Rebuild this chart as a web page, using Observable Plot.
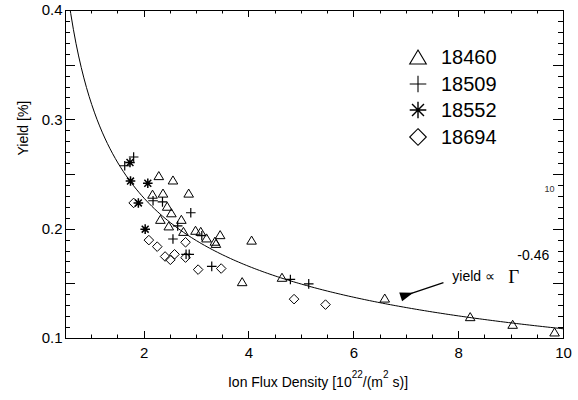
<!DOCTYPE html>
<html>
<head>
<meta charset="utf-8">
<script src="https://cdn.jsdelivr.net/npm/d3@7"></script>
<script src="https://cdn.jsdelivr.net/npm/@observablehq/plot@0.6"></script>
<style>
  body { margin: 0; background: #fff; }
  #chart { position: relative; width: 578px; height: 400px; font-family: "Liberation Sans", Arial, Helvetica, sans-serif; }
  #legend { position: absolute; left: 405px; top: 44px; font-size: 20px; line-height: 26.5px; color: #000; }
  #legend .row { display: flex; align-items: center; height: 26.5px; }
  #legend svg { width: 26px; height: 26px; margin-right: 10px; overflow: visible; }
</style>
</head>
<body>
<div id="chart"><div id="legend"></div></div>
<script>
// Sputtering yield against ion flux density, four discharges, with power-law fit

// shot 18460 (triangles): [flux 1e22 /(m^2 s), yield %]
const shot18460 = [
  [2.28, 0.249], [2.55, 0.245], [2.16, 0.232], [2.36, 0.233], [2.85, 0.233],
  [2.44, 0.221], [2.52, 0.215], [2.71, 0.209], [2.31, 0.209], [2.47, 0.203],
  [2.75, 0.198], [2.98, 0.199], [3.08, 0.198], [3.19, 0.192], [3.35, 0.189],
  [3.37, 0.187], [3.45, 0.195], [4.05, 0.190], [3.87, 0.152], [4.63, 0.156],
  [6.59, 0.137], [8.22, 0.120], [9.03, 0.113], [9.83, 0.106]
];
// shot 18509 (plus signs)
const shot18509 = [
  [1.80, 0.266], [1.63, 0.258], [2.17, 0.226], [2.35, 0.225], [2.89, 0.215],
  [2.64, 0.203], [2.55, 0.191], [3.10, 0.194], [2.80, 0.177], [2.86, 0.177],
  [3.29, 0.166], [4.79, 0.154], [5.14, 0.150]
];
// shot 18552 (asterisks)
const shot18552 = [
  [1.73, 0.261], [1.74, 0.244], [2.07, 0.242], [1.89, 0.224], [2.02, 0.200]
];
// shot 18694 (diamonds)
const shot18694 = [
  [1.80, 0.224], [2.09, 0.190], [2.25, 0.184], [2.40, 0.175], [2.50, 0.172],
  [2.58, 0.177], [2.79, 0.188], [2.79, 0.174], [3.03, 0.163], [3.47, 0.164],
  [4.86, 0.136], [5.46, 0.131]
];
const shotNames = ["18460", "18509", "18552", "18694"];

// power-law fit: yield = C * flux^-0.46
const fitCoefficient = 0.314;
const fitExponent = -0.46;

const xTickLabels = [2, 4, 6, 8, 10];
const yTickLabels = [0.1, 0.2, 0.3, 0.4];

// layout
const W = 578, H = 400, mL = 65, mR = 15, mT = 10, mB = 62;
const frameW = W - mL - mR, frameH = H - mT - mB;
const xDomain = [0.5, 10], yDomain = [0.1, 0.4];

// hollow marker shapes, r = half width
const rOf = (size) => Math.sqrt(size / Math.PI);
const triangleSym = { draw(c, s) { const r = rOf(s), h = r * 0.84; c.moveTo(0, -h); c.lineTo(r, h); c.lineTo(-r, h); c.closePath(); } };
const plusSym = { draw(c, s) { const r = rOf(s); c.moveTo(-r, 0); c.lineTo(r, 0); c.moveTo(0, -r); c.lineTo(0, r); } };
const starSym = { draw(c, s) { const r = rOf(s), d = r * 0.72; c.moveTo(-r, 0); c.lineTo(r, 0); c.moveTo(0, -r); c.lineTo(0, r); c.moveTo(-d, -d); c.lineTo(d, d); c.moveTo(-d, d); c.lineTo(d, -d); } };
const diamondSym = { draw(c, s) { const r = rOf(s); c.moveTo(0, -r); c.lineTo(r, 0); c.lineTo(0, r); c.lineTo(-r, 0); c.closePath(); } };
const headSym = { draw(c, s) { const r = rOf(s); c.moveTo(0, -r * 1.3); c.lineTo(r * 0.65, r * 0.6); c.lineTo(-r * 0.65, r * 0.6); c.closePath(); } };
const shotSymbols = [triangleSym, plusSym, starSym, diamondSym];
const shotWidths = [1, 1.2, 1.5, 1];

// fitted curve sampled across the flux range
const fitFlux = d3.range(0.5, 10.0001, 0.05);
const fitLine = fitFlux.map((g) => [g, fitCoefficient * Math.pow(g, fitExponent)]);

// annotation arrow (tail near the label, head near the curve)
const arrowTail = [7.71, 0.1511];
const arrowHead = [6.97, 0.1393];
const labelAt = [7.88, 0.1566];
const kx = frameW / (xDomain[1] - xDomain[0]);
const ky = frameH / (yDomain[1] - yDomain[0]);
const headAngle = Math.atan2((arrowHead[0] - arrowTail[0]) * kx, (arrowHead[1] - arrowTail[1]) * ky) * 180 / Math.PI;

const tickRange = (a, b, step) => d3.range(Math.round(a / step), Math.round(b / step) + 1).map((i) => +(i * step).toFixed(4));
const xMinor = tickRange(0.5, 10, 0.5).filter((v) => !xTickLabels.includes(v));
const yMinor = tickRange(0.1, 0.4, 0.01).filter((v) => Math.abs(v * 20 - Math.round(v * 20)) > 1e-6);
const yMid = tickRange(0.1, 0.4, 0.05);

const font = "Liberation Sans, Arial, Helvetica, sans-serif";
const shots = [shot18460, shot18509, shot18552, shot18694];

const plot = Plot.plot({
  width: W, height: H,
  marginLeft: mL, marginRight: mR, marginTop: mT, marginBottom: mB,
  style: { fontFamily: font, background: "#fff", color: "#000" },
  x: { domain: xDomain },
  y: { domain: yDomain },
  marks: [
    // tick labels
    Plot.axisX(xTickLabels, { anchor: "bottom", tickSize: 0, tickPadding: 9, fontSize: 15, tickFormat: (d) => String(d), label: null }),
    Plot.axisY(yTickLabels, { anchor: "left", tickSize: 0, tickPadding: 3, fontSize: 15, tickFormat: (d) => d.toFixed(1), label: null }),
    Plot.frame({ stroke: "#000", strokeWidth: 1 }),
    // fit curve
    Plot.line(fitLine, { x: (d) => d[0], y: (d) => d[1], stroke: "#000", strokeWidth: 1, clip: true }),
    // data points
    ...shots.map((data, i) => Plot.dot(data, {
      x: (d) => d[0], y: (d) => d[1], symbol: shotSymbols[i], r: 4.8,
      fill: i === 3 || i === 0 ? "none" : "#000", stroke: "#000", strokeWidth: shotWidths[i]
    })),
    // annotation
    Plot.link([0], { x1: arrowTail[0], y1: arrowTail[1], x2: arrowHead[0], y2: arrowHead[1], stroke: "#000", strokeWidth: 1.3 }),
    Plot.dot([0], { x: arrowHead[0], y: arrowHead[1], symbol: headSym, r: 7, fill: "#000", stroke: "none", rotate: headAngle + 180 }),
    Plot.text(["yield \u221d"], { x: labelAt[0], y: labelAt[1], textAnchor: "start", fontSize: 14 }),
    Plot.text(["\u0393"], { x: labelAt[0], y: labelAt[1], textAnchor: "start", dx: 56, dy: 0, fontSize: 19, fontFamily: "Liberation Serif, DejaVu Serif, serif" }),
    Plot.text(["-0.46"], { x: labelAt[0], y: labelAt[1], textAnchor: "start", dx: 65, dy: -21, fontSize: 14 }),
    Plot.text(["10"], { frameAnchor: "right", dx: -9, dy: 15, textAnchor: "end", fontSize: 9, fill: "#333" }),
    // y axis title
    Plot.text(["Yield [%]"], { frameAnchor: "left", rotate: -90, dx: -42, dy: -19, fontSize: 14 })
  ]
});

const svg = d3.select(plot);
const sx = plot.scale("x"), sy = plot.scale("y");

// inward ticks on all four sides, placed through the plot's scales
const yTop = mT, yBottom = H - mB, xLeft = mL, xRight = W - mR;
const tickPath = d3.path();
const addX = (values, len) => values.forEach((v) => {
  const px = Math.round(sx.apply(v)) + 0.5;
  tickPath.moveTo(px, yBottom); tickPath.lineTo(px, yBottom - len);
  tickPath.moveTo(px, yTop); tickPath.lineTo(px, yTop + len);
});
const addY = (values, len) => values.forEach((v) => {
  const py = Math.round(sy.apply(v)) + 0.5;
  tickPath.moveTo(xLeft, py); tickPath.lineTo(xLeft + len, py);
  tickPath.moveTo(xRight, py); tickPath.lineTo(xRight - len, py);
});
addX(xTickLabels, 7);
addX(xMinor, 3.5);
addY(yMid, 10);
addY(yMinor, 5);
svg.append("path").attr("d", tickPath.toString())
  .attr("fill", "none").attr("stroke", "#000").attr("stroke-width", 1);

// x axis title with superscripts
const xt = svg.append("text")
  .attr("x", (mL + W - mR) / 2 + 4).attr("y", 387)
  .attr("text-anchor", "middle").attr("font-size", 14).attr("font-family", font).attr("fill", "#000");
xt.append("tspan").text("Ion Flux Density [10");
xt.append("tspan").attr("font-size", 10).attr("dy", -9).text("22");
xt.append("tspan").attr("dy", 9).text("/(m");
xt.append("tspan").attr("font-size", 10).attr("dy", -9).text("2");
xt.append("tspan").attr("dy", 9).text(" s)]");

document.getElementById("chart").prepend(plot);

// legend
const legend = d3.select("#legend");
shotNames.forEach((name, i) => {
  const row = legend.append("div").attr("class", "row");
  const s = row.append("svg").attr("viewBox", "-13 -13 26 26");
  s.append("path")
    .attr("d", d3.symbol(shotSymbols[i], Math.PI * 8.3 * 8.3)())
    .attr("fill", "none").attr("stroke", "#000").attr("stroke-width", i === 2 ? 1.4 : 1.1);
  row.append("span").text(name);
});
</script>
</body>
</html>
